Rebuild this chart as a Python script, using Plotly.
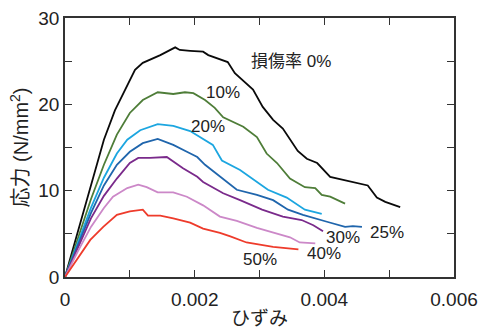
import plotly.graph_objects as go

# strain / stress data
x0 = [0, 0.0002, 0.0004, 0.0006, 0.00077, 0.00096, 0.00108, 0.0012, 0.00147, 0.0017, 0.00177, 0.00193, 0.00213, 0.00221, 0.00251, 0.00262, 0.00278, 0.0029, 0.00305, 0.00321, 0.00336, 0.00359, 0.00373, 0.00389, 0.00409, 0.0044, 0.00467, 0.00481, 0.00494, 0.00517]
y0 = [0, 5.3, 10.6, 15.9, 19.3, 22.2, 24.0, 24.8, 25.7, 26.6, 26.3, 26.2, 26.1, 25.7, 24.9, 23.6, 22.5, 21.7, 19.7, 18.2, 17.2, 14.6, 13.7, 13.2, 11.6, 11.1, 10.6, 9.2, 8.7, 8.1]

x10 = [0, 0.0002, 0.0004, 0.0006, 0.0008, 0.001, 0.0012, 0.00143, 0.00167, 0.00185, 0.00198, 0.00216, 0.00231, 0.00244, 0.00275, 0.00296, 0.00311, 0.00327, 0.00347, 0.0037, 0.00386, 0.00396, 0.00409, 0.00432]
y10 = [0, 4.6, 9.0, 13.0, 16.5, 19.0, 20.5, 21.4, 21.2, 21.4, 21.3, 20.5, 19.6, 18.5, 17.4, 16.2, 14.3, 13.2, 11.4, 10.4, 10.3, 9.5, 9.3, 8.5]

x20 = [0, 0.0002, 0.0004, 0.0006, 0.0008, 0.00096, 0.00116, 0.00143, 0.00167, 0.00193, 0.00208, 0.00228, 0.00242, 0.0027, 0.00313, 0.00342, 0.0037, 0.00396]
y20 = [0, 4.1, 8.0, 11.5, 14.3, 15.9, 17.0, 17.7, 17.5, 16.9, 16.2, 15.3, 13.5, 12.4, 10.1, 9.2, 7.8, 7.3]

x25 = [0, 0.0002, 0.0004, 0.0006, 0.0008, 0.001, 0.0012, 0.00143, 0.00167, 0.00188, 0.00204, 0.00216, 0.00244, 0.00265, 0.00296, 0.00321, 0.00344, 0.00367, 0.00404, 0.00432, 0.00444, 0.00458]
y25 = [0, 3.8, 7.4, 10.6, 13.0, 14.5, 15.5, 16.0, 15.3, 14.5, 13.9, 13.0, 11.4, 10.1, 9.5, 8.9, 7.8, 7.2, 6.4, 5.8, 5.9, 5.8]

x30 = [0, 0.0002, 0.0004, 0.0006, 0.0008, 0.001, 0.00113, 0.00131, 0.00157, 0.00182, 0.00204, 0.00213, 0.00244, 0.0027, 0.00304, 0.00336, 0.00365, 0.00383, 0.00398]
y30 = [0, 3.5, 6.8, 9.4, 11.4, 13.2, 13.8, 13.8, 13.9, 12.6, 11.6, 11.0, 9.7, 8.9, 7.8, 7.0, 6.6, 6.0, 5.3]

x40 = [0, 0.0002, 0.0004, 0.0006, 0.00074, 0.00096, 0.00113, 0.00126, 0.00143, 0.00167, 0.00188, 0.00213, 0.00239, 0.00265, 0.00296, 0.00321, 0.00347, 0.00362, 0.00386]
y40 = [0, 3.0, 5.8, 8.0, 9.3, 10.3, 10.7, 10.4, 9.8, 9.8, 9.3, 8.3, 7.0, 6.5, 5.7, 5.2, 4.6, 4.0, 3.9]

x50 = [0, 0.0002, 0.00039, 0.00059, 0.0008, 0.001, 0.0012, 0.00128, 0.00147, 0.00167, 0.00193, 0.00213, 0.00239, 0.00255, 0.0028, 0.00321, 0.0036]
y50 = [0, 2.2, 4.3, 5.8, 7.2, 7.6, 7.8, 7.1, 7.1, 6.8, 6.3, 5.6, 5.1, 4.7, 4.0, 3.5, 3.2]

labels = ["損傷率 0%", "10%", "20%", "25%", "30%", "40%", "50%"]
label_x = [0.00349, 0.00244, 0.00221, 0.00497, 0.00429, 0.00400, 0.00301]
label_y = [25.0, 21.4, 17.4, 5.1, 4.6, 2.7, 2.0]

series = [
    (x0, y0, "#0a0a0a"),
    (x10, y10, "#4e7d38"),
    (x20, y20, "#1ca6e0"),
    (x25, y25, "#1f65ac"),
    (x30, y30, "#7a2a8b"),
    (x40, y40, "#cc88c8"),
    (x50, y50, "#ee3b2b"),
]

FONT = "Liberation Sans, Arial, Noto Sans CJK JP, sans-serif"

fig = go.Figure()
for xs, ys, c in series:
    fig.add_trace(go.Scatter(x=xs, y=ys, mode="lines",
                             line=dict(color=c, width=1.8), showlegend=False))

for t, lx, ly in zip(labels, label_x, label_y):
    fig.add_annotation(x=lx, y=ly, text=t, showarrow=False,
                       font=dict(size=17, color="#222222", family=FONT))

xt = [0, 0.001, 0.002, 0.003, 0.004, 0.005, 0.006]
xtt = ["0", "", "0.002", "", "0.004", "", "0.006"]
yt = [0, 5, 10, 15, 20, 25, 30]
ytt = ["0", "", "10", "", "20", "", "30"]

fig.update_layout(
    width=483, height=329,
    margin=dict(l=65, r=29, t=18, b=52),
    plot_bgcolor="white", paper_bgcolor="white",
    font=dict(family=FONT, size=19, color="#222222"),
    xaxis=dict(range=[0, 0.006], tickvals=xt, ticktext=xtt, automargin=False,
               ticks="inside", ticklen=7, tickwidth=1.3, tickcolor="#333",
               showline=True, linecolor="#333", linewidth=1.5, mirror="ticks",
               showgrid=False, zeroline=False, ticklabelstandoff=4,
               title=dict(text="ひずみ", font=dict(size=19), standoff=4)),
    yaxis=dict(range=[0, 30], tickvals=yt, ticktext=ytt, automargin=False,
               ticks="inside", ticklen=7, tickwidth=1.3, tickcolor="#333",
               showline=True, linecolor="#333", linewidth=1.5, mirror="ticks",
               showgrid=False, zeroline=False,
               title=dict(text="応力 (N/mm<sup>2</sup>)", font=dict(size=20), standoff=4)),
)

fig.write_html("out.html")
